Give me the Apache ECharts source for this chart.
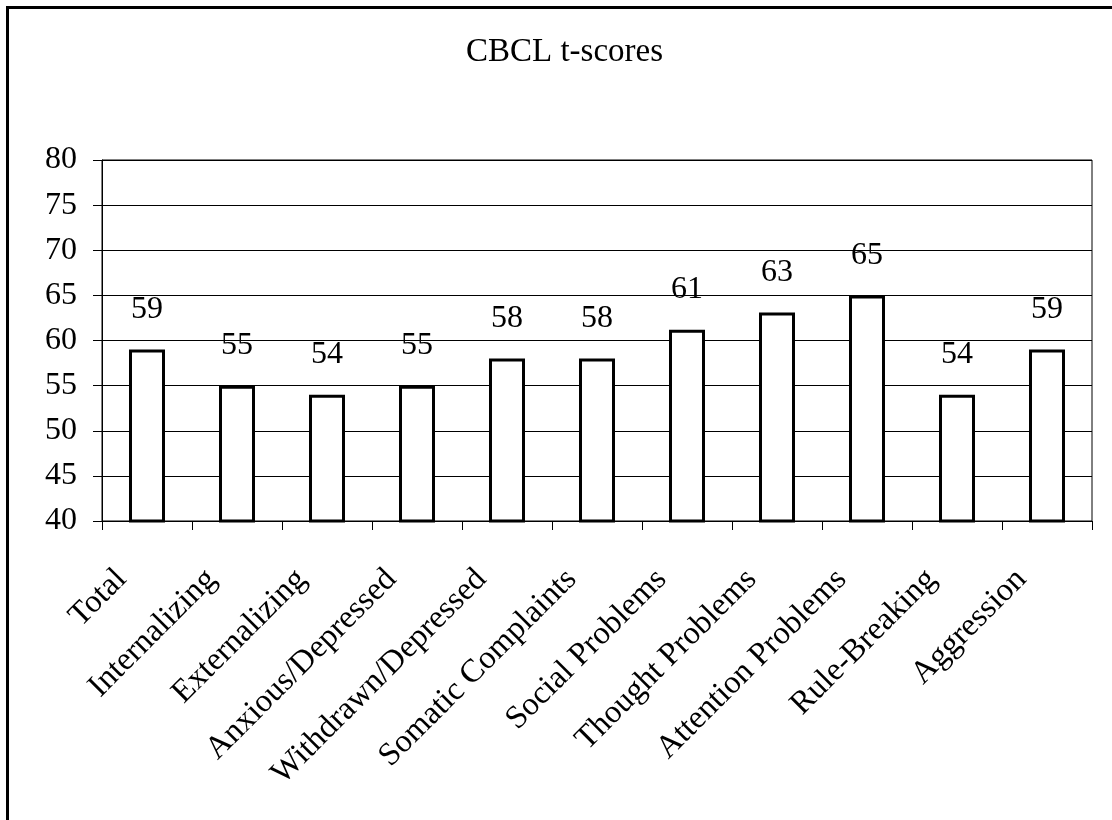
<!DOCTYPE html>
<html>
<head>
<meta charset="utf-8">
<script src="https://cdn.jsdelivr.net/npm/echarts@6/dist/echarts.min.js"></script>
<style>
  html, body { margin: 0; padding: 0; background: #fff; }
  #chart { width: 1112px; height: 820px; }
</style>
</head>
<body>
<div id="chart"></div>
<script>
const titleText = 'CBCL t-scores';
const categories = ['Total', 'Internalizing', 'Externalizing', 'Anxious/Depressed', 'Withdrawn/Depressed',
  'Somatic Complaints', 'Social Problems', 'Thought Problems', 'Attention Problems', 'Rule-Breaking', 'Aggression'];
const scores = [59, 55, 54, 55, 58, 58, 61.2, 63.1, 65, 54, 59];
const yMin = 40, yMax = 80, yStep = 5;

const FONT = '"Liberation Serif", "Times New Roman", serif';
const chart = echarts.init(document.getElementById('chart'), null, { renderer: 'canvas' });
chart.setOption({
  backgroundColor: '#fff',
  animation: false,
  title: {
    text: titleText,
    left: 466, top: 36, padding: 0,
    textStyle: { fontFamily: FONT, fontSize: 33, fontWeight: 'normal', color: '#000' }
  },
  graphic: [{
    type: 'rect',
    shape: { x: 7.5, y: 7.5, width: 1200, height: 900 },
    style: { fill: 'none', stroke: '#000', lineWidth: 3 },
    silent: true
  }],
  grid: {
    left: 102, right: 20, top: 160, bottom: 299,
    show: true, borderColor: '#000', borderWidth: 1, backgroundColor: 'transparent'
  },
  xAxis: {
    type: 'category',
    data: categories,
    axisLine: { lineStyle: { color: '#000', width: 1 } },
    axisTick: { show: true, length: 9, lineStyle: { color: '#000' } },
    axisLabel: {
      interval: 0, rotate: 45, margin: 28,
      padding: [0, 36, 0, 0],
      fontFamily: FONT, fontSize: 32.5, color: '#000'
    }
  },
  yAxis: {
    type: 'value',
    min: yMin, max: yMax, interval: yStep,
    axisLine: { show: true, lineStyle: { color: '#000', width: 1 } },
    axisTick: { show: true, length: 9, lineStyle: { color: '#000' } },
    axisLabel: { margin: 25, fontFamily: FONT, fontSize: 32, color: '#000' },
    splitLine: { show: true, lineStyle: { color: '#000', width: 1 } }
  },
  series: [{
    type: 'bar',
    data: scores,
    barWidth: 36,
    itemStyle: { color: '#fff', borderColor: '#000', borderWidth: 3 },
    label: {
      show: true, position: 'top', distance: 24,
      fontFamily: FONT, fontSize: 32, color: '#000',
      formatter: p => String(Math.round(p.value))
    }
  }]
});
</script>
</body>
</html>
